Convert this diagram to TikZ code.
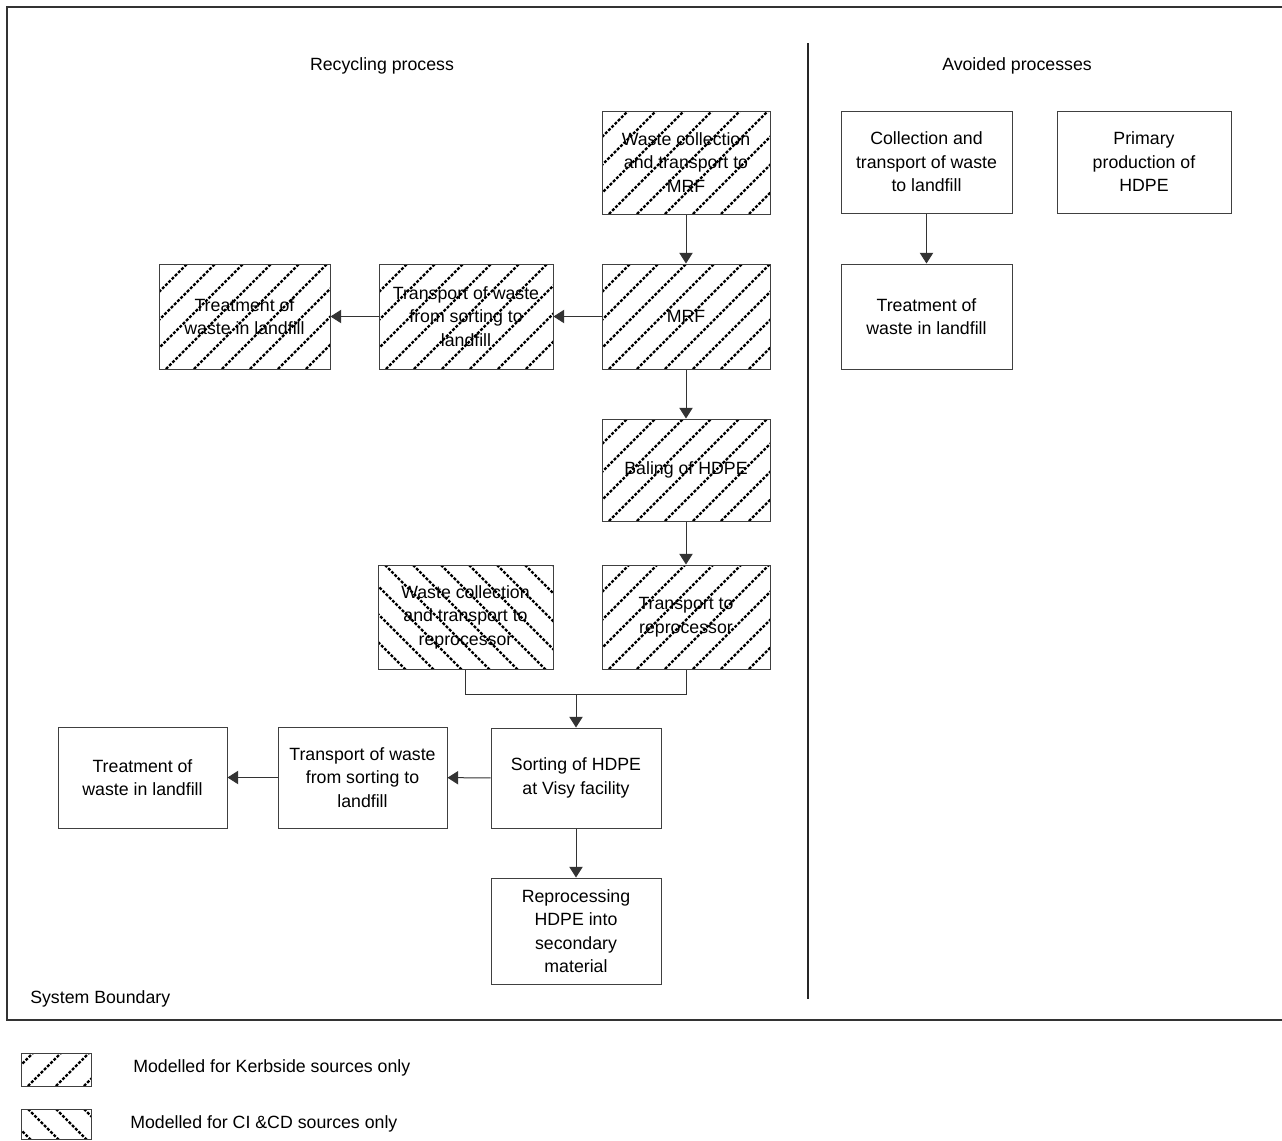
\documentclass[tikz,border=0pt]{standalone}
\usepackage{fontspec}
\setmainfont{Liberation Sans}
\usetikzlibrary{arrows.meta}
\newcommand\procbox[7]{\node[box,#6,minimum width={(#4-#2)*0.75pt},minimum height={(#5-#3)*0.75pt}] (#1) at ({(#2+#4)/2},{(#3+#5)/2}) {#7};}
\begin{document}
\begin{tikzpicture}[x=0.75pt,y=-0.75pt,
  box/.style={draw=black!75, line width=0.75pt, inner sep=0pt, align=center, font=\fontsize{13.3}{17.6}\selectfont},
  hatchline/.style={black, line width=1.7pt, dash pattern=on 2.2pt off 1.2pt},
  hne/.style={path picture={\foreach \i in {-6,...,8}{\draw[hatchline] ([shift={(7+\i*28,0)}]path picture bounding box.south west) -- ++(160,-160);}}},
  hnw/.style={path picture={\foreach \i in {-6,...,8}{\draw[hatchline] ([shift={(7+\i*28,0)}]path picture bounding box.north west) -- ++(160,160);}}},
  conn/.style={draw=black!80, line width=0.75pt},
  arr/.style={conn, -{Triangle[length=8pt,width=10pt]}},
  lbl/.style={font=\fontsize{13.3}{16}\selectfont, inner sep=0pt}
]
\useasboundingbox (0,0) rectangle (1282,1140);
% system boundary
\coordinate (bTR) at (1290,7);
\coordinate (bTL) at (7,7);
\coordinate (bBL) at (7,1020);
\coordinate (bBR) at (1290,1020);
\draw[black!80, line width=0.9pt] (bTR) -- (bTL) -- (bBL) -- (bBR);
\coordinate (dTop) at (808,43);
\coordinate (dBot) at (808,999);
\draw[black!85, line width=0.9pt] (dTop) -- (dBot);
\node[lbl] (t1) at (382,66) {Recycling process};
\node[lbl] (t2) at (1017,66) {Avoided processes};
\node[lbl, anchor=base west] (sb) at (30,1003) {System Boundary};
% recycling boxes
\procbox{wcmrf}{602}{111}{770}{214}{hne}{Waste collection\\and transport to\\MRF}
\procbox{mrf}{602}{264}{770}{369}{hne}{MRF}
\procbox{trs1}{379}{264}{553}{369}{hne}{Transport of waste\\from sorting to\\landfill}
\procbox{tr1}{159}{264}{330}{369}{hne}{Treatment of\\waste in landfill}
\procbox{bal}{602}{419}{770}{521}{hne}{Baling of HDPE}
\procbox{trrep}{602}{565}{770}{669}{hne}{Transport to\\reprocessor}
\procbox{wcrep}{378}{565}{553}{669}{hnw}{Waste collection\\and transport to\\reprocessor}
\procbox{sort}{491}{728}{661}{828}{}{Sorting of HDPE\\at Visy facility}
\procbox{trs2}{278}{727}{447}{828}{}{Transport of waste\\from sorting to\\landfill}
\procbox{tr2}{58}{727}{227}{828}{}{Treatment of\\waste in landfill}
\procbox{rep}{491}{878}{661}{984}{}{Reprocessing\\HDPE into\\secondary\\material}
% avoided
\procbox{coll}{841}{111}{1012}{213}{}{Collection and\\transport of waste\\to landfill}
\procbox{prim}{1057}{111}{1231}{213}{}{Primary\\production of\\HDPE}
\procbox{tr3}{841}{264}{1012}{369}{}{Treatment of\\waste in landfill}
% connectors
\draw[arr] (wcmrf) -- (mrf);
\draw[arr] (mrf) -- (trs1);
\draw[arr] (trs1) -- (tr1);
\draw[arr] (mrf) -- (bal);
\draw[arr] (bal) -- (trrep);
\path (wcrep.south) ++(0,25) coordinate (mjl);
\draw[conn] (wcrep.south) -- (mjl) -| (trrep.south);
\draw[arr] (sort.north |- mjl) -- (sort.north);
\draw[arr] (sort) -- (trs2);
\draw[arr] (trs2) -- (tr2);
\draw[arr] (sort) -- (rep);
\draw[arr] (coll) -- (tr3);
% legend
\procbox{lg1}{21}{1053}{91}{1086}{hne}{}
\procbox{lg2}{21}{1109}{91}{1139}{hnw}{}
\node[lbl, anchor=west] (lt1) at (133,1068) {Modelled for Kerbside sources only};
\node[lbl, anchor=west] (lt2) at (130,1124) {Modelled for CI \&CD sources only};
\end{tikzpicture}
\end{document}
